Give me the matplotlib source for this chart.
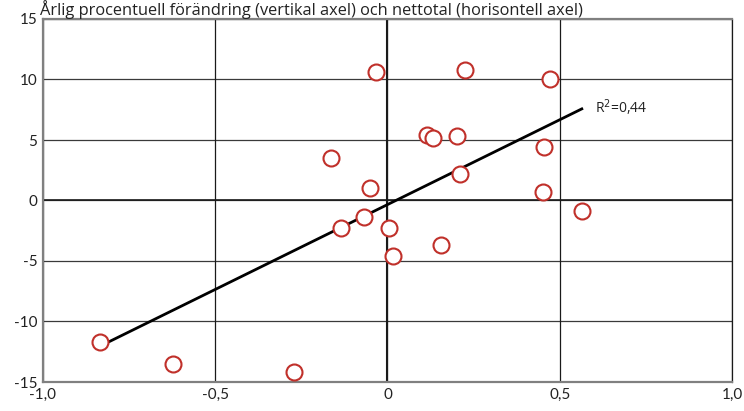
import numpy as np
import matplotlib
matplotlib.use("Agg")
import matplotlib.pyplot as plt

plt.rcParams['font.family'] = ['Lato', 'DejaVu Sans']

net_x = [-0.834, -0.622, -0.270, -0.163, -0.134, -0.067, -0.052, -0.032, 0.003, 0.015,
         0.116, 0.131, 0.154, 0.203, 0.209, 0.224, 0.453, 0.451, 0.471, 0.564]
change_y = [-11.7, -13.55, -14.2, 3.55, -2.3, -1.4, 1.07, 10.66, -2.3, -4.6,
            5.45, 5.2, -3.7, 5.3, 2.15, 10.8, 4.4, 0.74, 10.08, -0.9]
x_ticks = [-1.0, -0.5, 0.0, 0.5, 1.0]
x_labels = ['-1,0', '-0,5', '0', '0,5', '1,0']
y_ticks = [-15, -10, -5, 0, 5, 10, 15]
y_labels = ['-15', '-10', '-5', '0', '5', '10', '15']
title = 'Årlig procentuell förändring (vertikal axel) och nettotal (horisontell axel)'
r2_label = 'R$^2$=0,44'

x = np.array(net_x)
y = np.array(change_y)

fig = plt.figure(figsize=(7.44, 4.11), dpi=100)
ax = fig.add_axes([43/744, 1-382/411, (732-43)/744, (382-19)/411])
ax.set_xlim(-1, 1)
ax.set_ylim(-15, 15)

for yt in y_ticks:
    ax.axhline(yt, color='#3a3a3a', lw=0.9, zorder=1)
for xt in x_ticks:
    ax.axvline(xt, color='#1a1a1a', lw=0.9, zorder=1)
ax.axvline(0, color='#1a1a1a', lw=1.5, zorder=1)
ax.axhline(0, color='#1a1a1a', lw=1.2, zorder=1)

slope, intercept = np.polyfit(x, y, 1)
xs = np.array([x.min(), x.max()])
ax.plot(xs, slope*xs + intercept, color='black', lw=2.0, zorder=2)

ax.plot(x, y, linestyle='none', marker='o', markersize=11.5, markerfacecolor='white',
        markeredgecolor='#c0302a', markeredgewidth=1.5, zorder=3)

ax.text(0.602, 7.7, r2_label, fontsize=10, color='#222222', va='center', ha='left',
        family=['Open Sans', 'DejaVu Sans'])

for s in ['top', 'left', 'bottom']:
    ax.spines[s].set_color('#808080')
    ax.spines[s].set_linewidth(1.6)
ax.spines['right'].set_color('#1a1a1a')
ax.spines['right'].set_linewidth(0.9)

ax.set_xticks(x_ticks)
ax.set_xticklabels(x_labels)
ax.set_yticks(y_ticks)
ax.set_yticklabels(y_labels)
ax.tick_params(length=0, labelsize=11, colors='#222222', pad=4)

fig.text(40/744, 1-0.5/411, title, fontsize=11.8, color='#222222', ha='left', va='top',
         family=['Open Sans', 'DejaVu Sans'])

fig.savefig('out.png', dpi=100)
